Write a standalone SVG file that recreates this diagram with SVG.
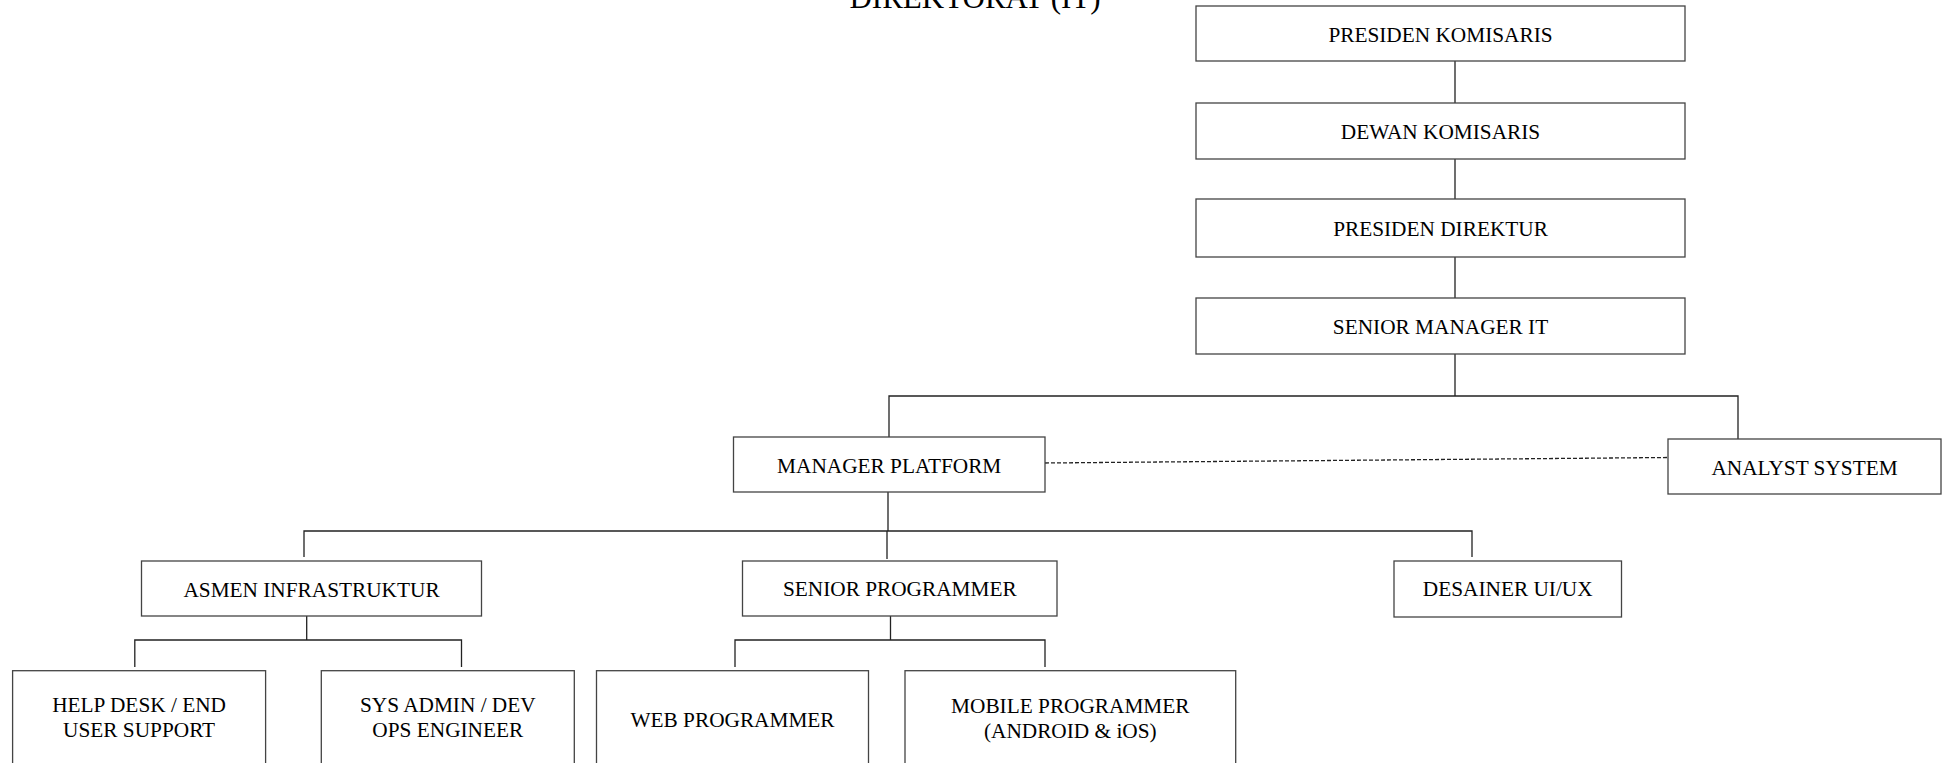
<svg xmlns="http://www.w3.org/2000/svg" width="1946" height="763" viewBox="0 0 1946 763">
<style>
.box{fill:#fff;stroke:#444;stroke-width:1.3}
.t{font-family:"Liberation Serif","Times New Roman",serif;font-size:21.3px;fill:#000;text-anchor:middle}
.ttl{font-family:"Liberation Serif","Times New Roman",serif;font-size:31px;fill:#000;text-anchor:middle}
.c{stroke:#222;stroke-width:1.3;fill:none}
.d{stroke:#222;stroke-width:1.3;fill:none;stroke-dasharray:4 2}
</style>
<rect width="1946" height="763" fill="#fff"/>
<text class="ttl" x="975" y="8">DIREKTORAT (IT)</text>
<g id="connectors">
<path class="c" d="M1455 61V103M1455 159V199M1455 257V298M1455 354V396"/>
<path class="c" d="M889 437V396H1738V439"/>
<path class="d" d="M1045 463L1668 457.5"/>
<path class="c" d="M888 492V531M304 557V531H1472V557M887 531V559"/>
<path class="c" d="M306.7 616V640M134.8 667V640H461.5V667"/>
<path class="c" d="M890.5 616V640M735 667V640H1045V667"/>
</g>
<g id="presiden-komisaris"><rect class="box" x="1196" y="6" width="489" height="55"/><text class="t" x="1440.5" y="42">PRESIDEN KOMISARIS</text></g>
<g id="dewan-komisaris"><rect class="box" x="1196" y="103" width="489" height="56"/><text class="t" x="1440.5" y="139">DEWAN KOMISARIS</text></g>
<g id="presiden-direktur"><rect class="box" x="1196" y="199" width="489" height="58"/><text class="t" x="1440.5" y="235.5">PRESIDEN DIREKTUR</text></g>
<g id="senior-manager-it"><rect class="box" x="1196" y="298" width="489" height="56"/><text class="t" x="1440.5" y="334">SENIOR MANAGER IT</text></g>
<g id="manager-platform"><rect class="box" x="733.5" y="437" width="311.5" height="55"/><text class="t" x="889.2" y="472.5">MANAGER PLATFORM</text></g>
<g id="analyst-system"><rect class="box" x="1668" y="439" width="273" height="55"/><text class="t" x="1804.5" y="475">ANALYST SYSTEM</text></g>
<g id="asmen-infrastruktur"><rect class="box" x="141.5" y="561" width="340" height="55"/><text class="t" x="311.5" y="596.5">ASMEN INFRASTRUKTUR</text></g>
<g id="senior-programmer"><rect class="box" x="742.5" y="561" width="314.5" height="55"/><text class="t" x="899.8" y="596">SENIOR PROGRAMMER</text></g>
<g id="desainer-uiux"><rect class="box" x="1394" y="561" width="227.5" height="56"/><text class="t" x="1507.7" y="596">DESAINER UI/UX</text></g>
<g id="help-desk"><rect class="box" x="12.6" y="670.7" width="253" height="120"/><text class="t" x="139.1" y="712">HELP DESK / END</text><text class="t" x="139.1" y="736.7">USER SUPPORT</text></g>
<g id="sys-admin"><rect class="box" x="321.3" y="670.7" width="253" height="120"/><text class="t" x="447.8" y="712">SYS ADMIN / DEV</text><text class="t" x="447.8" y="736.7">OPS ENGINEER</text></g>
<g id="web-programmer"><rect class="box" x="596.5" y="670.7" width="272" height="120"/><text class="t" x="732.5" y="726.7">WEB PROGRAMMER</text></g>
<g id="mobile-programmer"><rect class="box" x="905" y="670.7" width="330.7" height="120"/><text class="t" x="1070.3" y="713">MOBILE PROGRAMMER</text><text class="t" x="1070.3" y="738">(ANDROID &amp; iOS)</text></g>
</svg>
